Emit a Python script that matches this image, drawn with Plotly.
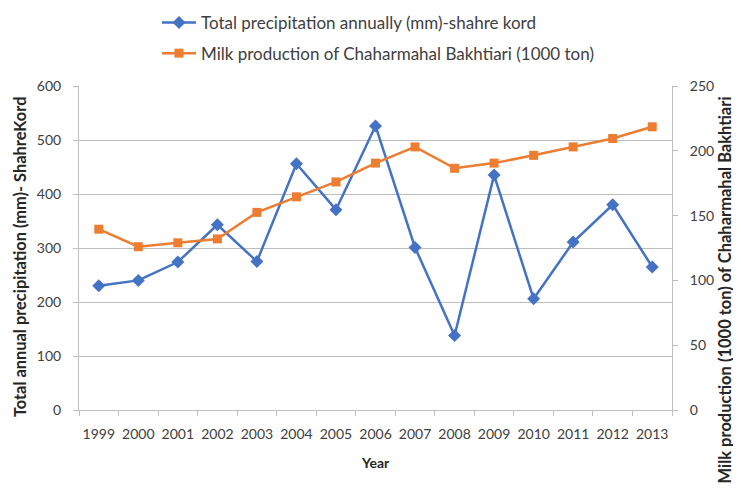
import plotly.graph_objects as go

years = ["1999", "2000", "2001", "2002", "2003", "2004", "2005", "2006",
         "2007", "2008", "2009", "2010", "2011", "2012", "2013"]
precip = [230, 240, 274, 343, 275, 456, 371, 526, 301, 138, 435, 206, 311, 380, 265]
milk = [139.5, 126, 129, 132, 152.5, 164.5, 176, 190.5, 203, 186.5, 190.5, 196.5, 203, 209.5, 218.5]

FONT = "Lato"
TXT = "#404040"
TITLE = "#262626"
GRID = "#BDBDBD"
AXIS = "#BFBFBF"

fig = go.Figure()
fig.add_trace(go.Scatter(
    x=years, y=precip, name="Total precipitation annually (mm)-shahre kord",
    mode="lines+markers", legendgroup="a",
    line=dict(color="#4472C4", width=2.5),
    marker=dict(symbol="diamond", size=10, color="#4472C4"),
    yaxis="y"))
fig.add_trace(go.Scatter(
    x=years, y=milk, name="Milk production of Chaharmahal Bakhtiari (1000 ton)",
    mode="lines+markers", legendgroup="b",
    line=dict(color="#ED7D31", width=2.5),
    marker=dict(symbol="square", size=9, color="#ED7D31"),
    yaxis="y2"))

fig.update_layout(
    width=733, height=482,
    margin=dict(l=71, r=69, t=78, b=80, autoexpand=False),
    paper_bgcolor="white", plot_bgcolor="white",
    font=dict(family=FONT, size=14, color=TXT),
    showlegend=True,
    legend=dict(x=0.1315, y=1.25, xanchor="left", yanchor="top",
                font=dict(family=FONT, size=17, color=TXT),
                itemwidth=34, tracegroupgap=5.5, bgcolor="rgba(0,0,0,0)"),
    xaxis=dict(
        type="category", range=[-0.5, len(years) - 0.5],
        tickson="boundaries", ticks="outside", ticklen=5,
        tickcolor=AXIS, showline=True, linecolor=AXIS, linewidth=1,
        showgrid=False, automargin=False, tickangle=0, ticklabelstandoff=11,
        tickfont=dict(family=FONT, size=14, color=TXT)),
    yaxis=dict(
        range=[0, 600], dtick=100, showgrid=True, gridcolor=GRID, gridwidth=1,
        showline=True, linecolor=AXIS, ticks="outside", ticklen=5, tickcolor=AXIS,
        zeroline=False, automargin=False, ticklabelstandoff=9,
        tickfont=dict(family=FONT, size=14, color=TXT)),
    yaxis2=dict(
        range=[0, 250], dtick=50, overlaying="y", side="right", showgrid=False,
        showline=True, linecolor=AXIS, ticks="outside", ticklen=5, tickcolor=AXIS,
        zeroline=False, automargin=False, ticklabelstandoff=9,
        tickfont=dict(family=FONT, size=14, color=TXT)),
    annotations=[
        dict(text="<b>Year</b>", xref="paper", yref="paper", x=0.5, y=-0.1627,
             xanchor="center", yanchor="middle", showarrow=False,
             font=dict(family=FONT, size=14, color=TITLE)),
        dict(text="<b>Total annual precipitation (mm)- ShahreKord</b>",
             xref="paper", yref="paper", x=-0.1012, y=0.475, textangle=-90,
             xanchor="center", yanchor="middle", showarrow=False,
             font=dict(family=FONT, size=16.4, color=TITLE)),
        dict(text="<b>Milk production (1000 ton) of Chaharmahal Bakhtiari</b>",
             xref="paper", yref="paper", x=1.09, y=0.37, textangle=-90,
             xanchor="center", yanchor="middle", showarrow=False,
             font=dict(family=FONT, size=16.5, color=TITLE)),
    ],
)

fig.write_html("out.html")
